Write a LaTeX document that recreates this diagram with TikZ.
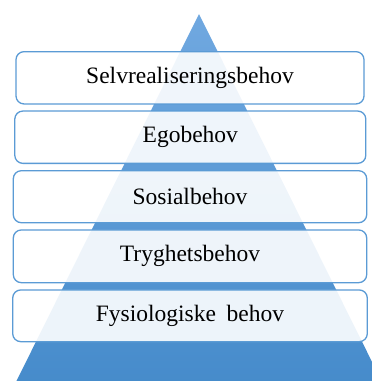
\documentclass[tikz,border=0pt]{standalone}
\usepackage{fontspec}
\setmainfont{Liberation Serif}
\definecolor{boxblue}{RGB}{91,155,213}
\definecolor{tritop}{RGB}{112,168,224}
\definecolor{tribot}{RGB}{68,138,202}
\tikzset{
  levelbox/.style={draw=boxblue, line width=1.3pt, rounded corners=8pt, fill=white, fill opacity=0.9, text opacity=1, inner sep=0pt, font=\fontsize{23.5}{28}\selectfont},
}
\begin{document}
\begin{tikzpicture}[x=1pt,y=1pt]
\useasboundingbox (0,0) rectangle (372,-381);
\begin{scope}
\clip (0,0) rectangle (372,-381);
\shade[top color=tritop, bottom color=tribot] (199,-14) -- (391,-400) -- (7,-400) -- cycle;
\end{scope}
\node[levelbox, minimum width=348pt, minimum height=52.3pt] (l1) at (190,-77.8) {Selvrealiseringsbehov};
\node[levelbox, minimum width=351pt, minimum height=52.3pt] (l2) at (190.3,-137.2) {Egobehov};
\node[levelbox, minimum width=353.4pt, minimum height=52pt] (l3) at (190,-196.7) {Sosialbehov};
\node[levelbox, minimum width=353.4pt, minimum height=52.7pt] (l4) at (190,-256.3) {Tryghetsbehov};
\node[levelbox, minimum width=354.6pt, minimum height=51.7pt] (l5) at (190,-315.8) {Fysiologiske\hspace{0.45em}behov};
\end{tikzpicture}
\end{document}
